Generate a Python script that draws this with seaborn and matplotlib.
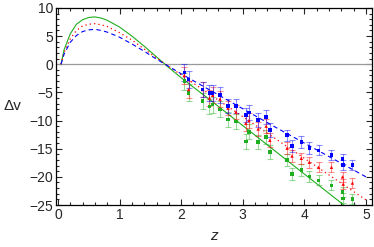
import numpy as np
import pandas as pd
import matplotlib
matplotlib.use("Agg")
import matplotlib.pyplot as plt
from matplotlib.ticker import MultipleLocator
import seaborn as sns

# model curves
z_curve = [0.05, 0.1, 0.2, 0.3, 0.4, 0.5, 0.6, 0.7, 0.8, 1.0, 1.2, 1.4, 1.6, 1.8, 2.0, 2.5, 3.0, 3.5, 4.0, 4.5, 5.0]
v_green = [0.0, 2.6, 5.4, 7.1, 7.9, 8.3, 8.4, 8.2, 7.8, 6.6, 5.0, 3.2, 1.3, -0.6, -2.4, -6.6, -10.9, -15.2, -19.5, -23.8, -28.0]
v_red   = [0.0, 2.1, 4.5, 6.0, 6.8, 7.1, 7.2, 7.0, 6.7, 5.6, 4.3, 2.7, 1.1, -0.4, -1.9, -5.6, -9.3, -13.0, -16.7, -20.4, -24.1]
v_blue  = [0.0, 1.8, 3.9, 5.1, 5.8, 6.1, 6.2, 6.0, 5.7, 4.8, 3.6, 2.3, 0.9, -0.4, -1.7, -4.8, -7.9, -11.0, -14.0, -17.0, -20.0]

# data points
z_data = [2.05, 2.12, 2.35, 2.46, 2.51, 2.63, 2.76, 2.89, 3.05, 3.10, 3.25, 3.38, 3.44,
          3.72, 3.80, 3.95, 4.08, 4.23, 4.44, 4.62, 4.63, 4.78]
d_blue = [-1.5, -2.7, -4.5, -5.1, -5.1, -5.5, -7.4, -7.4, -9.0, -8.6, -9.9, -9.4, -11.7,
          -12.6, -14.5, -13.8, -14.9, -15.3, -16.1, -16.8, -17.9, -17.9]
d_red = [-2.0, -4.5, -4.5, -6.0, -5.5, -6.2, -7.8, -8.5, -10.5, -10.0, -11.5, -11.0, -13.5,
         -14.9, -16.3, -16.7, -17.4, -18.3, -18.3, -20.0, -21.3, -21.1]
d_green = [-3.0, -5.1, -6.5, -7.5, -7.2, -8.0, -9.8, -10.2, -13.7, -12.0, -13.8, -12.9, -15.6,
           -17.0, -19.5, -18.8, -19.9, -20.6, -21.5, -22.7, -23.8, -23.9]
err = [1.5, 1.5, 1.4, 1.4, 1.4, 1.4, 1.3, 1.3, 1.3, 1.3, 1.2, 1.2, 1.2,
       1.0, 1.0, 1.0, 1.0, 0.9, 0.9, 0.9, 0.9, 0.9]

BLUE = "#0000ff"
RED = "#ff0000"
GREEN = "#1fae1f"

sns.set_style("ticks")
plt.rcParams["font.family"] = ["Liberation Sans", "DejaVu Sans"]
plt.rcParams["axes.unicode_minus"] = True

fig = plt.figure(figsize=(3.74, 2.47), dpi=100)
ax = fig.add_axes([0.150, 0.170, 0.845, 0.798])

ax.axhline(0, color="#999999", lw=0.9, zorder=1)

curves = pd.DataFrame({"z": z_curve, "green": v_green, "red": v_red, "blue": v_blue})
sns.lineplot(data=curves, x="z", y="green", ax=ax, color=GREEN, lw=0.8, zorder=3)
sns.lineplot(data=curves, x="z", y="red", ax=ax, color=RED, lw=0.9, zorder=3, linestyle=(0, (1, 2.5)))
sns.lineplot(data=curves, x="z", y="blue", ax=ax, color=BLUE, lw=0.8, zorder=3, linestyle=(0, (4, 3)))

for vals, col, mk in [(d_green, GREEN, "s"), (d_red, RED, "^"), (d_blue, BLUE, "s")]:
    ax.errorbar(z_data, vals, yerr=err, fmt="none", ecolor=col, elinewidth=0.8,
                capsize=2.2, capthick=0.8, alpha=0.45, zorder=4)
    df = pd.DataFrame({"z": z_data, "v": vals})
    sns.scatterplot(data=df, x="z", y="v", ax=ax, color=col, marker=mk, s=6,
                    edgecolor="none", zorder=5)

ax.set_xlim(-0.03, 5.1)
ax.set_ylim(-25, 10)
ax.xaxis.set_major_locator(MultipleLocator(1))
ax.xaxis.set_minor_locator(MultipleLocator(0.2))
ax.yaxis.set_major_locator(MultipleLocator(5))
ax.yaxis.set_minor_locator(MultipleLocator(1))
ax.tick_params(which="both", direction="in", top=True, right=True, width=0.8, labelsize=10, pad=2)
ax.tick_params(which="major", length=4)
ax.tick_params(which="minor", length=2)
for s in ax.spines.values():
    s.set_linewidth(0.9)
    s.set_color("black")

ax.set_xlabel("z", fontsize=11, style="italic", labelpad=5)
ax.set_ylabel("Δv", fontsize=11, rotation=0, labelpad=12, va="center")

fig.savefig("out.png", dpi=100)
